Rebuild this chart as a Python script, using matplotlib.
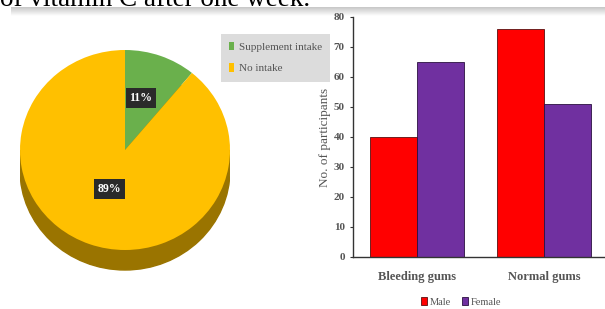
import matplotlib
matplotlib.use("Agg")
import matplotlib.pyplot as plt
import numpy as np
from matplotlib.patches import Ellipse, Rectangle, Patch

W, H = 605, 309

# ---- data ----
pie_labels = ["Supplement intake", "No intake"]
pie_values = [11, 89]
pie_colors = ["#6ab04c", "#ffc000"]

categories = ["Bleeding gums", "Normal gums"]
male = [40, 76]
female = [65, 51]
series_names = ["Male", "Female"]
yticks = [0, 10, 20, 30, 40, 50, 60, 70, 80]

header_text = "of vitamin C after one week."

fig = plt.figure(figsize=(W / 100, H / 100), dpi=100)
fig.patch.set_facecolor("white")

def fx(px):
    return px / W

def fy(py):
    return 1 - py / H

# header text (cut off at top, as in the source screenshot)
fig.text(fx(0), fy(6), header_text, family="Liberation Serif", fontsize=19.5,
         va="baseline", ha="left", color="black")

# gray separator band
band = fig.add_axes([fx(11), fy(16), fx(605 - 11), 9 / H])
grad = np.linspace(0.78, 1.0, 50).reshape(-1, 1)
band.imshow(np.dstack([grad, grad, grad]), aspect="auto", extent=[0, 1, 0, 1])
band.axis("off")

# ---- pie ----
pax = fig.add_axes([fx(20), fy(275), 210 / W, 225 / H])
depth = 0.2
pax.add_patch(Ellipse((0, -depth), 2, 2, color="#9a7400", zorder=1))
pax.add_patch(Rectangle((-1, -depth), 2, depth, color="#9a7400", zorder=1))
wedges, _ = pax.pie(pie_values, colors=pie_colors, startangle=90, counterclock=False,
                    radius=1, center=(0, 0), frame=True, wedgeprops=dict(linewidth=0))
for w in wedges:
    w.set_zorder(2)
pax.set_xlim(-1, 1)
pax.set_ylim(-1.25, 1)
pax.set_aspect("auto")
pax.axis("off")

box = dict(boxstyle="square,pad=0.3", facecolor="#2a2a2a", edgecolor="none")
pax.text(0.15, 0.52, f"{pie_values[0]}%", color="white", fontsize=8.5, weight="bold",
         family="Liberation Serif", ha="center", va="center", bbox=box, zorder=5)
pax.text(-0.15, -0.39, f"{pie_values[1]}%", color="white", fontsize=8.5, weight="bold",
         family="Liberation Serif", ha="center", va="center", bbox=box, zorder=5)

# pie legend
handles = [Patch(facecolor=c, edgecolor="none") for c in pie_colors]
leg = fig.legend(handles, pie_labels, loc="upper left",
                 bbox_to_anchor=(fx(215), fy(28)), frameon=True,
                 handlelength=0.5, handleheight=0.8, handletextpad=0.4,
                 labelspacing=1.0, borderpad=0.75,
                 prop={"family": "Liberation Serif", "size": 8})
leg.get_frame().set_facecolor("#dcdcdc")
leg.get_frame().set_edgecolor("none")
leg.get_frame().set_alpha(1)
leg.get_frame().set_boxstyle("square,pad=0")
for t in leg.get_texts():
    t.set_color("#555555")

# ---- bar chart ----
bax = fig.add_axes([fx(353), fy(257), fx(605 - 353) + 0.01, (257 - 17) / H])
x = np.arange(len(categories))
bw = 0.37
bax.bar(x - bw / 2, male, bw, color="#ff0000", edgecolor="#5a1010", linewidth=0.6, label=series_names[0])
bax.bar(x + bw / 2, female, bw, color="#7030a0", edgecolor="#2a1040", linewidth=0.6, label=series_names[1])
bax.set_xlim(-0.504, 1.53)
bax.set_ylim(0, 80)
bax.set_yticks(yticks)
bax.set_yticklabels([str(v) for v in yticks], fontsize=8, family="Liberation Serif",
                    weight="bold", color="#555555")
bax.set_xticks(x)
bax.set_xticklabels(categories, fontsize=9, family="Liberation Serif", weight="bold", color="#555555")
bax.tick_params(axis="x", length=0, pad=10)
bax.tick_params(axis="y", length=2, width=0.8, pad=4, color="#333333")
for s in ["top", "right"]:
    bax.spines[s].set_visible(False)
for s in ["left", "bottom"]:
    bax.spines[s].set_color("#333333")
    bax.spines[s].set_linewidth(1.0)
bax.set_ylabel("No. of participants", fontsize=9.5, family="Liberation Serif",
               color="#555555", labelpad=2)

bleg = fig.legend(handles=[bax.patches[0], bax.patches[2]], labels=series_names,
                  loc="center", bbox_to_anchor=(fx(461), fy(302)), ncol=2, frameon=False,
                  handlelength=0.6, handleheight=0.8, handletextpad=0.3, columnspacing=1.0,
                  prop={"family": "Liberation Serif", "size": 7.5})
for t in bleg.get_texts():
    t.set_color("#555555")

fig.savefig("out.png", dpi=100, facecolor="white")
